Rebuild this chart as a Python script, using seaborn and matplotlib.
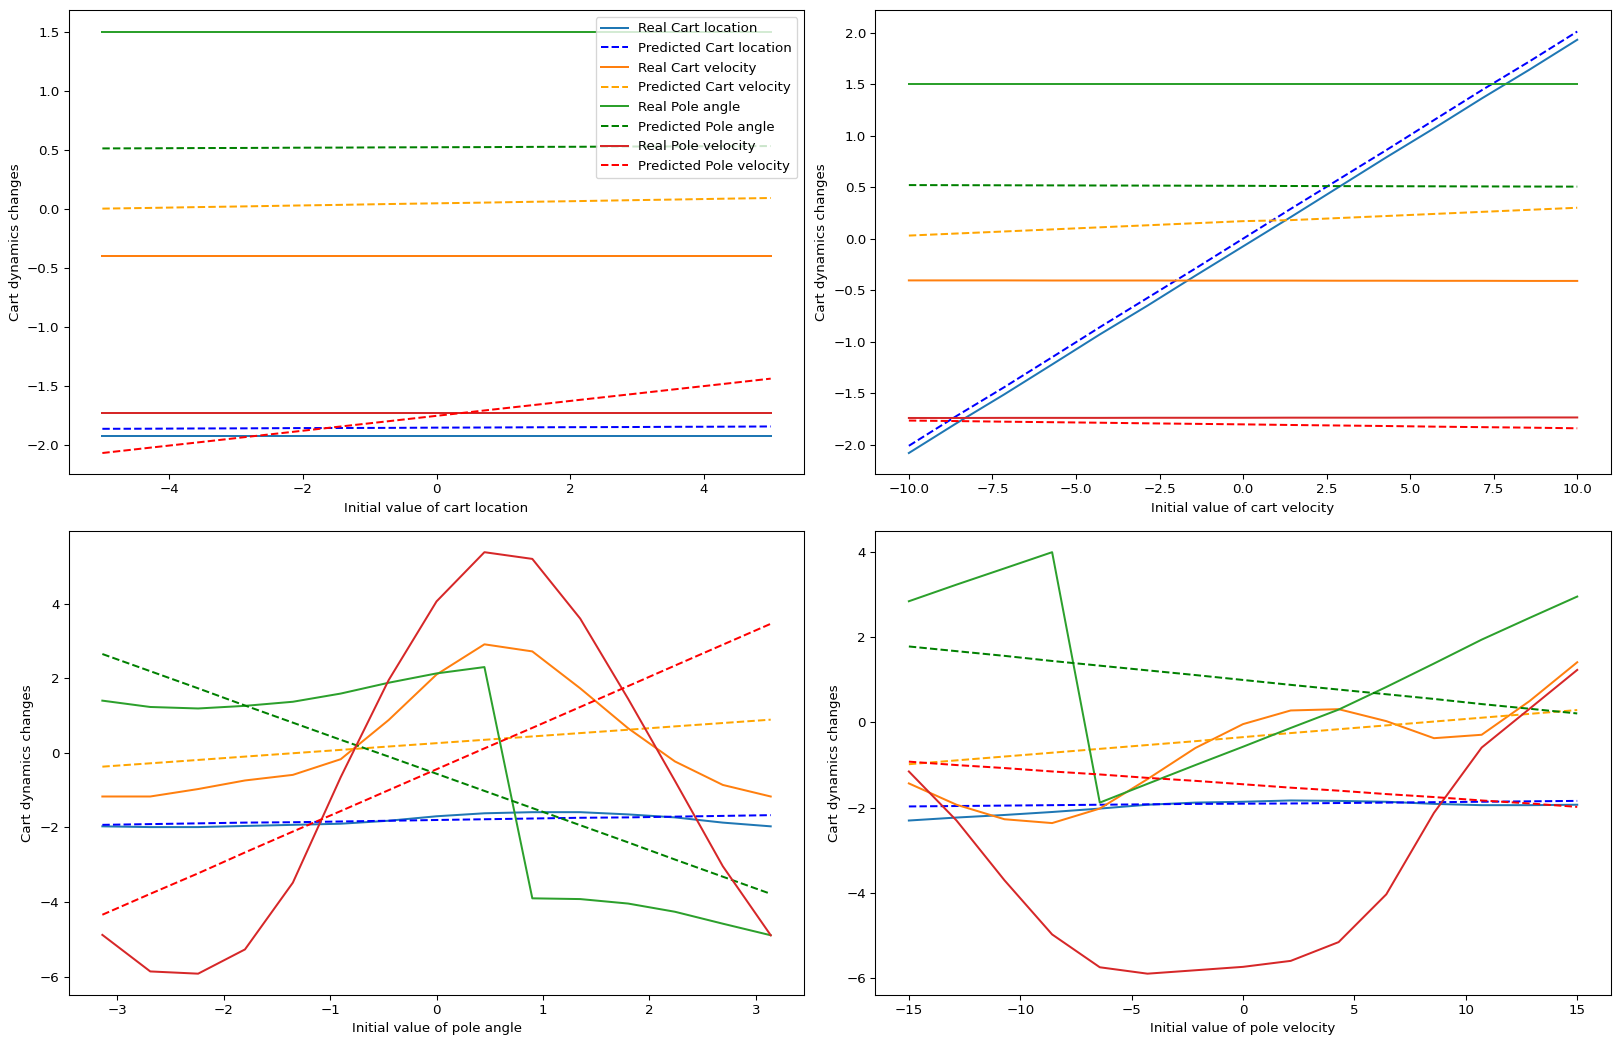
import numpy as np
import pandas as pd
import seaborn as sns
import matplotlib
matplotlib.use("Agg")
import matplotlib.pyplot as plt

# x grids (15 samples per sweep)
x_cart_loc = [-5.0, -4.29, -3.57, -2.86, -2.14, -1.43, -0.71, 0.0, 0.71, 1.43, 2.14, 2.86, 3.57, 4.29, 5.0]
x_cart_vel = [-10.0, -8.57, -7.14, -5.71, -4.29, -2.86, -1.43, 0.0, 1.43, 2.86, 4.29, 5.71, 7.14, 8.57, 10.0]
x_pole_ang = [-3.14, -2.69, -2.24, -1.80, -1.35, -0.90, -0.45, 0.0, 0.45, 0.90, 1.35, 1.80, 2.24, 2.69, 3.14]
x_pole_vel = [-15.0, -12.86, -10.71, -8.57, -6.43, -4.29, -2.14, 0.0, 2.14, 4.29, 6.43, 8.57, 10.71, 12.86, 15.0]

# panel 1: sweep of cart location
p1_real_loc = [-1.925] * 15
p1_pred_loc = [-1.865, -1.864, -1.862, -1.861, -1.859, -1.858, -1.857, -1.855, -1.854, -1.852, -1.851, -1.850, -1.848, -1.847, -1.845]
p1_real_vel = [-0.40] * 15
p1_pred_vel = [0.0, 0.006, 0.013, 0.019, 0.026, 0.032, 0.039, 0.045, 0.051, 0.058, 0.064, 0.071, 0.077, 0.084, 0.09]
p1_real_ang = [1.50] * 15
p1_pred_ang = [0.510, 0.511, 0.513, 0.514, 0.516, 0.517, 0.519, 0.520, 0.521, 0.523, 0.524, 0.526, 0.527, 0.529, 0.530]
p1_real_pvel = [-1.735] * 15
p1_pred_pvel = [-2.07, -2.025, -1.98, -1.935, -1.89, -1.845, -1.80, -1.755, -1.71, -1.665, -1.62, -1.575, -1.53, -1.485, -1.44]

# panel 2: sweep of cart velocity
p2_real_loc = [-2.08, -1.79, -1.51, -1.22, -0.93, -0.65, -0.36, -0.075, 0.21, 0.50, 0.79, 1.07, 1.36, 1.64, 1.93]
p2_pred_loc = [-2.01, -1.72, -1.44, -1.15, -0.86, -0.575, -0.29, 0.0, 0.29, 0.575, 0.86, 1.15, 1.44, 1.72, 2.01]
p2_real_vel = [-0.405, -0.405, -0.405, -0.406, -0.406, -0.406, -0.407, -0.407, -0.407, -0.408, -0.408, -0.409, -0.409, -0.41, -0.41]
p2_pred_vel = [0.03, 0.05, 0.07, 0.09, 0.11, 0.13, 0.15, 0.17, 0.18, 0.20, 0.22, 0.24, 0.26, 0.28, 0.30]
p2_real_ang = [1.50] * 15
p2_pred_ang = [0.520, 0.519, 0.518, 0.517, 0.516, 0.515, 0.514, 0.513, 0.511, 0.510, 0.509, 0.508, 0.507, 0.506, 0.505]
p2_real_pvel = [-1.740, -1.740, -1.739, -1.739, -1.739, -1.738, -1.738, -1.738, -1.737, -1.737, -1.737, -1.736, -1.736, -1.735, -1.735]
p2_pred_pvel = [-1.765, -1.770, -1.776, -1.781, -1.786, -1.792, -1.797, -1.802, -1.808, -1.813, -1.818, -1.824, -1.829, -1.834, -1.84]

# panel 3: sweep of pole angle
p3_real_loc = [-1.97, -1.99, -1.99, -1.96, -1.93, -1.90, -1.82, -1.70, -1.62, -1.59, -1.59, -1.65, -1.73, -1.87, -1.97]
p3_pred_loc = [-1.93, -1.91, -1.89, -1.87, -1.86, -1.84, -1.82, -1.80, -1.78, -1.76, -1.74, -1.73, -1.71, -1.69, -1.67]
p3_real_vel = [-1.17, -1.17, -0.97, -0.74, -0.59, -0.17, 0.88, 2.10, 2.91, 2.72, 1.73, 0.66, -0.23, -0.86, -1.17]
p3_pred_vel = [-0.37, -0.28, -0.19, -0.10, -0.01, 0.08, 0.17, 0.26, 0.35, 0.44, 0.53, 0.62, 0.71, 0.80, 0.89]
p3_real_ang = [1.40, 1.23, 1.19, 1.26, 1.37, 1.59, 1.88, 2.13, 2.30, -3.90, -3.92, -4.04, -4.26, -4.58, -4.89]
p3_pred_ang = [2.65, 2.19, 1.73, 1.27, 0.81, 0.35, -0.10, -0.56, -1.02, -1.48, -1.94, -2.40, -2.86, -3.32, -3.78]
p3_real_pvel = [-4.88, -5.86, -5.92, -5.27, -3.48, -0.65, 1.95, 4.06, 5.38, 5.20, 3.60, 1.45, -0.75, -3.04, -4.89]
p3_pred_pvel = [-4.34, -3.78, -3.23, -2.67, -2.11, -1.56, -1.00, -0.44, 0.12, 0.67, 1.23, 1.79, 2.34, 2.90, 3.46]

# panel 4: sweep of pole velocity
p4_real_loc = [-2.30, -2.23, -2.17, -2.10, -2.02, -1.93, -1.88, -1.86, -1.83, -1.84, -1.86, -1.91, -1.94, -1.94, -1.93]
p4_pred_loc = [-1.97, -1.96, -1.95, -1.94, -1.93, -1.92, -1.91, -1.905, -1.90, -1.89, -1.88, -1.87, -1.86, -1.85, -1.84]
p4_real_vel = [-1.43, -1.93, -2.27, -2.36, -2.02, -1.33, -0.60, -0.04, 0.28, 0.31, 0.03, -0.37, -0.29, 0.50, 1.41]
p4_pred_vel = [-0.98, -0.89, -0.80, -0.71, -0.62, -0.53, -0.44, -0.345, -0.25, -0.16, -0.07, 0.02, 0.11, 0.20, 0.29]
p4_real_ang = [2.84, 3.23, 3.61, 3.99, -1.88, -1.44, -1.00, -0.57, -0.13, 0.30, 0.83, 1.38, 1.94, 2.45, 2.95]
p4_pred_ang = [1.78, 1.67, 1.56, 1.44, 1.33, 1.22, 1.11, 0.995, 0.88, 0.77, 0.66, 0.55, 0.43, 0.32, 0.21]
p4_real_pvel = [-1.15, -2.30, -3.70, -4.97, -5.74, -5.89, -5.81, -5.73, -5.59, -5.15, -4.03, -2.12, -0.59, 0.32, 1.23]
p4_pred_pvel = [-0.92, -1.00, -1.07, -1.15, -1.22, -1.30, -1.37, -1.45, -1.53, -1.60, -1.68, -1.75, -1.83, -1.90, -1.98]

X_LABELS = ["Initial value of cart location", "Initial value of cart velocity",
            "Initial value of pole angle", "Initial value of pole velocity"]
Y_LABEL = "Cart dynamics changes"

DPI = 96


def main():
    panels = [
        (x_cart_loc, [p1_real_loc, p1_pred_loc, p1_real_vel, p1_pred_vel, p1_real_ang, p1_pred_ang, p1_real_pvel, p1_pred_pvel]),
        (x_cart_vel, [p2_real_loc, p2_pred_loc, p2_real_vel, p2_pred_vel, p2_real_ang, p2_pred_ang, p2_real_pvel, p2_pred_pvel]),
        (x_pole_ang, [p3_real_loc, p3_pred_loc, p3_real_vel, p3_pred_vel, p3_real_ang, p3_pred_ang, p3_real_pvel, p3_pred_pvel]),
        (x_pole_vel, [p4_real_loc, p4_pred_loc, p4_real_vel, p4_pred_vel, p4_real_ang, p4_pred_ang, p4_real_pvel, p4_pred_pvel]),
    ]
    # label, colour, dashes
    styles = [
        ("Real Cart location", "tab:blue", "-"),
        ("Predicted Cart location", "blue", "--"),
        ("Real Cart velocity", "tab:orange", "-"),
        ("Predicted Cart velocity", "orange", "--"),
        ("Real Pole angle", "tab:green", "-"),
        ("Predicted Pole angle", "green", "--"),
        ("Real Pole velocity", "tab:red", "-"),
        ("Predicted Pole velocity", "red", "--"),
    ]

    fig, axs = plt.subplots(2, 2, figsize=(1622 / DPI, 1046 / DPI), dpi=DPI)
    fig.subplots_adjust(left=0.0425, right=0.993, top=0.990, bottom=0.049, wspace=0.097, hspace=0.123)

    for index, ax in enumerate(axs.flat):
        xs, series = panels[index]
        for (label, color, ls), ys in zip(styles, series):
            df = pd.DataFrame({"x": xs, "y": ys})
            sns.lineplot(data=df, x="x", y="y", color=color, linestyle=ls,
                         linewidth=1.5, label=label, ax=ax, legend=False)
        ax.set_xlabel(X_LABELS[index], fontsize=10)
        ax.set_ylabel(Y_LABEL, fontsize=10)
        if index == 0:
            ax.legend(loc="upper right", fontsize=10)
        elif ax.get_legend() is not None:
            ax.get_legend().remove()

    plt.savefig("out.png", dpi=DPI)


if __name__ == "__main__":
    main()
